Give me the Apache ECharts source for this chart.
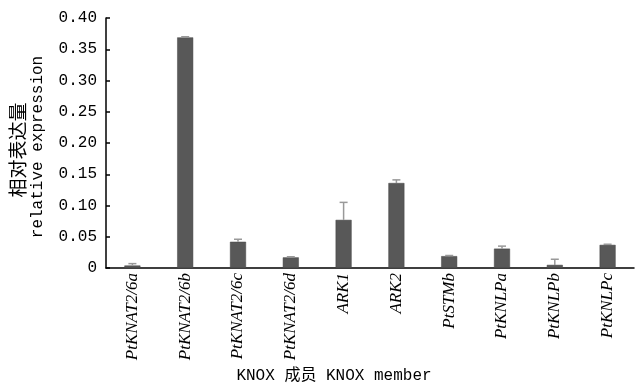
<!DOCTYPE html>
<html><head><meta charset="utf-8">
<script src="https://cdn.jsdelivr.net/npm/echarts@6/dist/echarts.min.js"></script>
<style>html,body{margin:0;padding:0;background:#fff}#c{width:636px;height:384px}</style>
</head><body><div id="c"></div>
<script>
const categories = ['PtKNAT2/6a','PtKNAT2/6b','PtKNAT2/6c','PtKNAT2/6d','ARK1','ARK2','PtSTMb','PtKNLPa','PtKNLPb','PtKNLPc'];
const values = [0.004, 0.369, 0.042, 0.017, 0.077, 0.136, 0.019, 0.031, 0.005, 0.037];
const errors = [0.003, 0.001, 0.004, 0.001, 0.028, 0.005, 0.001, 0.004, 0.009, 0.001];
const yAxisNameLines = ['相对表达量', 'relative expression'];
const xAxisName = 'KNOX 成员 KNOX member';

const chart = echarts.init(document.getElementById('c'));
const mono = '"Liberation Mono", "Noto Sans CJK SC", monospace';
chart.setOption({
  animation: false,
  grid: {left: 106, right: 2, top: 18, bottom: 116},
  xAxis: {
    type: 'category', data: categories,
    axisLine: {lineStyle: {color: '#000', width: 1.5}},
    axisTick: {inside: true, length: 5, alignWithLabel: false, lineStyle: {color: '#000', width: 1.5}},
    axisLabel: {rotate: 90, interval: 0, margin: 5, color: '#000',
      fontFamily: '"Liberation Serif", serif', fontStyle: 'italic', fontSize: 17}
  },
  yAxis: {
    type: 'value', min: 0, max: 0.4, interval: 0.05,
    splitLine: {show: false},
    axisLine: {show: true, lineStyle: {color: '#000', width: 1.5}},
    axisTick: {show: true, inside: true, length: 4, lineStyle: {color: '#000', width: 1.5}},
    axisLabel: {color: '#000', fontFamily: mono, fontSize: 16, margin: 9,
      formatter: v => v === 0 ? '0' : v.toFixed(2)}
  },
  graphic: [
    {type: 'text', x: 18, y: 150, rotation: Math.PI / 2,
      style: {text: yAxisNameLines[0], fill: '#000', font: '19px "Noto Sans CJK SC"', align: 'center', verticalAlign: 'middle'}},
    {type: 'text', x: 38, y: 147, rotation: Math.PI / 2,
      style: {text: yAxisNameLines[1], fill: '#000', font: '16px "Liberation Mono"', align: 'center', verticalAlign: 'middle'}},
    {type: 'text', x: 334, y: 376,
      style: {text: xAxisName, fill: '#000', font: '16px "Liberation Mono", "Noto Sans CJK SC"', align: 'center', verticalAlign: 'middle'}}
  ],
  series: [
    {type: 'bar', data: values, barWidth: 16, itemStyle: {color: '#585858', borderColor: '#444', borderWidth: 0.5}},
    {type: 'custom', data: values.map((v, i) => [i, v, errors[i]]), z: 5,
      renderItem: (params, api) => {
        const i = api.value(0), v = api.value(1), e = api.value(2);
        const p0 = api.coord([i, v]);
        const p1 = api.coord([i, v + e]);
        const hw = 4;
        const st = {stroke: '#999', lineWidth: 1.5};
        return {type: 'group', children: [
          {type: 'line', shape: {x1: p0[0], y1: p0[1], x2: p1[0], y2: p1[1]}, style: st},
          {type: 'line', shape: {x1: p1[0] - hw, y1: p1[1], x2: p1[0] + hw, y2: p1[1]}, style: st}
        ]};
      }}
  ]
});
</script></body></html>
